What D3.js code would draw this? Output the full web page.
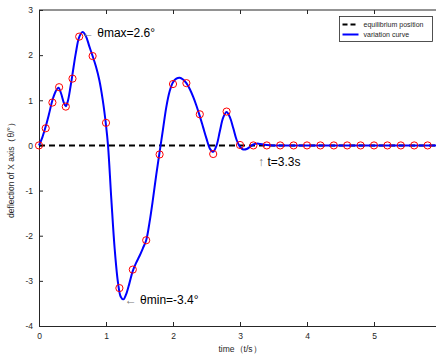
<!DOCTYPE html>
<html>
<head>
<meta charset="utf-8">
<script src="https://cdn.jsdelivr.net/npm/d3@7"></script>
<style>
  body { margin: 0; background: #fff; }
  text { font-family: "Liberation Sans", Arial, sans-serif; }
</style>
</head>
<body>
<svg id="chart" width="436" height="358"></svg>
<script>
// sampled measurement points (red circles)
const sampleT = [0, 0.1, 0.2, 0.3, 0.4, 0.5, 0.6, 0.8, 1.0, 1.2, 1.4, 1.6, 1.8, 2.0, 2.2, 2.4, 2.6, 2.8, 3.0,
  3.2, 3.4, 3.6, 3.8, 4.0, 4.2, 4.4, 4.6, 4.8, 5.0, 5.2, 5.4, 5.6, 5.8];
const sampleV = [0, 0.38, 0.95, 1.29, 0.86, 1.48, 2.41, 1.98, 0.5, -3.16, -2.75, -2.1, -0.2, 1.36, 1.38, 0.69, -0.19, 0.75, 0.01,
  0, 0, 0, 0, 0, 0, 0, 0, 0, 0, 0, 0, 0, 0];

// fitted variation curve (blue)
const curveT = [0, 0.05, 0.1, 0.15, 0.2, 0.25, 0.29, 0.33, 0.37, 0.4, 0.43, 0.47, 0.5, 0.55, 0.6, 0.65, 0.7, 0.75,
  0.8, 0.85, 0.9, 0.95, 1.0, 1.03, 1.08, 1.13, 1.18, 1.22, 1.26, 1.3, 1.35, 1.4, 1.45, 1.5, 1.55, 1.6, 1.65,
  1.7, 1.75, 1.8, 1.85, 1.9, 1.95, 2.0, 2.05, 2.1, 2.15, 2.2, 2.25, 2.3, 2.35, 2.4, 2.45, 2.5, 2.55, 2.6,
  2.65, 2.7, 2.75, 2.8, 2.85, 2.9, 2.95, 3.0, 3.05, 3.1, 3.15, 3.2, 3.25, 3.3, 3.4, 3.5, 4.5, 6.0];
const curveV = [0, 0.18, 0.42, 0.7, 1.0, 1.2, 1.28, 1.15, 0.95, 0.87, 0.98, 1.3, 1.58, 2.05, 2.4, 2.51, 2.42, 2.2,
  1.98, 1.75, 1.45, 1.02, 0.45, 0.0, -1.2, -2.3, -3.05, -3.35, -3.41, -3.3, -3.05, -2.78, -2.6, -2.45, -2.28, -2.1, -1.7,
  -1.2, -0.65, -0.15, 0.35, 0.85, 1.2, 1.4, 1.48, 1.5, 1.46, 1.38, 1.25, 1.08, 0.88, 0.65, 0.4, 0.15, -0.07, -0.14,
  0.0, 0.32, 0.62, 0.74, 0.62, 0.38, 0.12, -0.03, -0.09, -0.08, -0.03, 0.02, 0.04, 0.03, 0.01, 0, 0, 0];

const xTicks = [0, 1, 2, 3, 4, 5];
const yTicks = [-4, -3, -2, -1, 0, 1, 2, 3];
const legendLabels = ['equilibrium position', 'variation curve'];

const svg = d3.select('#chart');
const axisColor = '#262626';
const plain = d => String(d);

const x = d3.scaleLinear().domain([0, 6]).range([39, 441]);
const y = d3.scaleLinear().domain([-4, 3]).range([326, 10]);

// frame (top edge)
svg.append('line')
    .attr('x1', x(0)).attr('x2', x(6))
    .attr('y1', y(3)).attr('y2', y(3))
    .attr('stroke', axisColor).attr('stroke-width', 1);

// bottom axis
svg.append('g')
    .attr('transform', `translate(0,${y(-4)})`)
    .call(d3.axisBottom(x).tickValues(xTicks).tickFormat(plain).tickSizeInner(-4).tickSizeOuter(0).tickPadding(7));
// top ticks
svg.append('g')
    .attr('transform', `translate(0,${y(3)})`)
    .call(d3.axisTop(x).tickValues(xTicks).tickSizeInner(-4).tickSizeOuter(0).tickFormat(''))
    .select('.domain').remove();

// left axis
svg.append('g')
    .attr('transform', `translate(${x(0)},0)`)
    .call(d3.axisLeft(y).tickValues(yTicks).tickFormat(plain).tickSizeInner(-4).tickSizeOuter(0).tickPadding(6));

svg.selectAll('.tick text')
    .attr('fill', axisColor)
    .style('font-size', '8.5px');
svg.selectAll('.domain, .tick line')
    .attr('stroke', axisColor);

// equilibrium line
svg.append('line')
    .attr('x1', x(0)).attr('x2', x(6))
    .attr('y1', y(0)).attr('y2', y(0))
    .attr('stroke', '#000').attr('stroke-width', 2)
    .attr('stroke-dasharray', '6,4');

// variation curve
const line = d3.line()
    .x(d => x(d[0]))
    .y(d => y(d[1]))
    .curve(d3.curveCatmullRom.alpha(0.5));
svg.append('path')
    .datum(d3.zip(curveT, curveV))
    .attr('d', line)
    .attr('fill', 'none')
    .attr('stroke', '#0000ff')
    .attr('stroke-width', 2);

// sample circles
svg.append('g')
    .selectAll('circle')
    .data(d3.zip(sampleT, sampleV))
    .enter()
    .append('circle')
    .attr('cx', d => x(d[0]))
    .attr('cy', d => y(d[1]))
    .attr('r', 3.6)
    .attr('fill', 'none')
    .attr('stroke', '#ff0000')
    .attr('stroke-width', 1);

// annotations
function note(tx, ty, arrow, label) {
    const t = svg.append('text')
        .attr('x', tx).attr('y', ty)
        .style('font-size', '12px')
        .attr('fill', '#000');
    t.append('tspan').attr('fill', '#777').text(arrow + ' ');
    t.append('tspan').text(label);
}
note(x(0.64), y(2.5) + 4, '\u2190', '\u03b8max=2.6\u00b0');
note(x(1.28), y(-3.42) + 4, '\u2190', '\u03b8min=-3.4\u00b0');
note(x(3.33) - 4, y(-0.45), '\u2191', 't=3.3s');

// axis titles
svg.append('text')
    .attr('x', x(3)).attr('y', 352)
    .attr('text-anchor', 'middle')
    .attr('fill', axisColor)
    .style('font-size', '8.5px')
    .text('time\uff08t/s\uff09');
svg.append('text')
    .attr('transform', `translate(14,${(y(3) + y(-4)) / 2}) rotate(-90)`)
    .attr('text-anchor', 'middle')
    .attr('fill', axisColor)
    .style('font-size', '8.5px')
    .text('deflection of X axis\uff08\u03b8/\u00b0\uff09');

// legend
const lg = svg.append('g').attr('transform', 'translate(339.5,16.5)');
lg.append('rect')
    .attr('width', 93).attr('height', 25)
    .attr('fill', '#fff')
    .attr('stroke', axisColor).attr('stroke-width', 0.8);
const styles = [{c: '#000', dash: '5,3'}, {c: '#0000ff', dash: null}];
legendLabels.forEach((name, i) => {
    const yy = 8 + i * 10;
    lg.append('line')
        .attr('x1', 3).attr('x2', 19)
        .attr('y1', yy).attr('y2', yy)
        .attr('stroke', styles[i].c).attr('stroke-width', 2)
        .attr('stroke-dasharray', styles[i].dash);
    lg.append('text')
        .attr('x', 24).attr('y', yy + 2.5)
        .attr('fill', axisColor)
        .style('font-size', '7px')
        .text(name);
});
</script>
</body>
</html>
